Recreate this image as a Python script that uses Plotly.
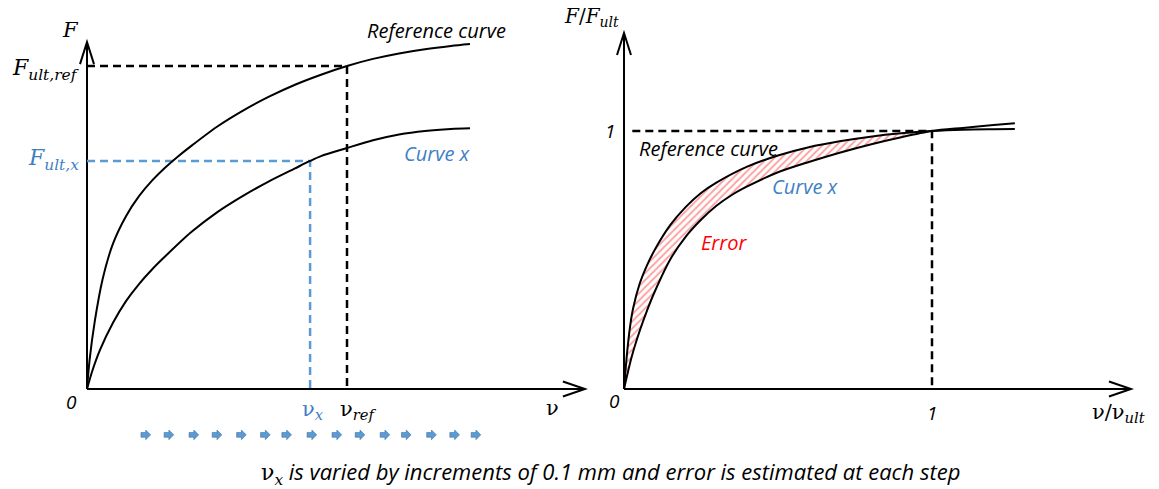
import plotly.graph_objects as go

# ---- left panel: raw force-displacement curves (v in units of v_ref, F in units of F_ult,ref)
ref_v = [0.0, 0.01, 0.03, 0.06, 0.1, 0.15, 0.2, 0.25, 0.3, 0.35, 0.4, 0.5, 0.6, 0.7, 0.8, 0.9,
         1.0, 1.1, 1.2, 1.3, 1.4, 1.473]
ref_F = [0.0, 0.09, 0.21, 0.34, 0.45, 0.535, 0.597, 0.645, 0.685, 0.72, 0.752, 0.812, 0.862, 0.905,
         0.942, 0.973, 1.0, 1.022, 1.039, 1.052, 1.062, 1.068]
curx_v = [0.0, 0.02, 0.05, 0.1, 0.15, 0.2, 0.25, 0.3, 0.4, 0.5, 0.6, 0.7, 0.8, 0.858, 0.9,
          1.0, 1.1, 1.2, 1.3, 1.4, 1.473]
curx_F = [0.0, 0.055, 0.121, 0.205, 0.272, 0.325, 0.37, 0.41, 0.485, 0.547, 0.598, 0.643, 0.683, 0.706,
          0.721, 0.746, 0.770, 0.788, 0.799, 0.805, 0.807]

v_ref, F_ult_ref = 1.0, 1.0
v_x, F_ult_x = 0.858, 0.706
left_v_max, left_F_max = 1.915, 1.074

# displacement steps (block arrows below the left axis)
step_v = [0.226, 0.315, 0.411, 0.500, 0.594, 0.686, 0.768, 0.865,
          0.961, 1.050, 1.146, 1.228, 1.325, 1.414, 1.496]
step_F = -0.142

# ---- right panel: normalised curves
nref_u = [0.0, 0.01, 0.02, 0.03, 0.05, 0.075, 0.1, 0.15, 0.2, 0.25, 0.3, 0.4, 0.5, 0.6,
          0.7, 0.8, 0.9, 1.0, 1.1, 1.2, 1.269]
nref_r = [0.0, 0.14, 0.245, 0.315, 0.405, 0.48, 0.54, 0.635, 0.705, 0.76, 0.80, 0.862, 0.905, 0.937,
          0.96, 0.978, 0.991, 1.0, 1.005, 1.007, 1.008]
ncx_u = [0.0, 0.025, 0.05, 0.075, 0.1, 0.15, 0.2, 0.25, 0.3, 0.35, 0.4, 0.5, 0.6, 0.7,
         0.8, 0.9, 1.0, 1.1, 1.2, 1.269]
ncx_r = [0.0, 0.125, 0.222, 0.305, 0.378, 0.502, 0.59, 0.656, 0.71, 0.752, 0.785, 0.84, 0.88, 0.916,
         0.948, 0.976, 1.0, 1.012, 1.023, 1.030]
right_u_max, right_r_max = 1.646, 1.380

BLACK = "#000000"
BLUE_LINE = "#5B9BD5"
BLUE_TEXT = "#3F7FC4"
RED = "#FF0000"
SANS = "Open Sans"
MATH = "DejaVu Serif"

fig = go.Figure()

def line(x, y, xa, ya, color=BLACK, width=2, dash=None, shape="linear"):
    ln = dict(color=color, width=width, dash=dash, shape=shape)
    if shape == "spline":
        ln["smoothing"] = 0.8
    fig.add_trace(go.Scatter(x=x, y=y, xaxis=xa, yaxis=ya, mode="lines", line=ln,
                             hoverinfo="skip", showlegend=False))

# ---------- left panel ----------
line([0, 0], [0, left_F_max], "x", "y")
line([0, left_v_max], [0, 0], "x", "y")
line([0, v_ref, v_ref], [F_ult_ref, F_ult_ref, 0], "x", "y", dash="8px,5px", width=2.5)
line([0, v_x, v_x], [F_ult_x, F_ult_x, 0], "x", "y", color=BLUE_LINE, dash="8px,5px", width=2.5)
line(ref_v, ref_F, "x", "y", shape="spline")
line(curx_v, curx_F, "x", "y", shape="spline")

# ---------- right panel ----------
k_ref = nref_u.index(1.0) + 1
k_cx = ncx_u.index(1.0) + 1
fig.add_trace(go.Scatter(
    x=nref_u[:k_ref] + ncx_u[:k_cx][::-1],
    y=nref_r[:k_ref] + ncx_r[:k_cx][::-1],
    xaxis="x2", yaxis="y2", mode="lines", fill="toself",
    line=dict(width=0, shape="spline", smoothing=0.8),
    fillcolor="rgba(0,0,0,0)",
    fillpattern=dict(shape="/", fgcolor="#FF3C3C", size=5, solidity=0.35),
    hoverinfo="skip", showlegend=False))
line([0, 0], [0, right_r_max], "x2", "y2")
line([0, right_u_max], [0, 0], "x2", "y2")
line([0.027, 1.0, 1.0], [1.0, 1.0, 0], "x2", "y2", dash="8px,5px", width=2.5)
line(nref_u, nref_r, "x2", "y2", shape="spline")
line(ncx_u, ncx_r, "x2", "y2", shape="spline")

# ---------- arrowheads on the axes ----------
shapes = []
def chevron(xref, yref, x, y, path):
    shapes.append(dict(type="path", xref=xref, yref=yref, xsizemode="pixel", ysizemode="pixel",
                       xanchor=x, yanchor=y, path=path, line=dict(color=BLACK, width=2)))

chevron("x", "y", 0, left_F_max, "M -7,-22 L 0,0 L 7,-22")
chevron("x", "y", left_v_max, 0, "M -22,-7.5 L 0,0 L -22,7.5")
chevron("x2", "y2", 0, right_r_max, "M -7,-22 L 0,0 L 7,-22")
chevron("x2", "y2", right_u_max, 0, "M -22,-7.5 L 0,0 L -22,7.5")

for sv in step_v:
    shapes.append(dict(type="path", xref="x", yref="y", xsizemode="pixel", ysizemode="pixel",
                       xanchor=sv, yanchor=step_F,
                       path="M -4.8,-2.4 L 0,-2.4 L 0,-4.8 L 4.8,0 L 0,4.8 L 0,2.4 L -4.8,2.4 Z",
                       fillcolor="#5B9BD5", line=dict(color="#41719C", width=0.6)))

# ---------- labels ----------
ann = []
def label(text, x, y, xref, yref, size=20, color=BLACK, family=SANS, xanchor="center"):
    ann.append(dict(text=text, x=x, y=y, xref=xref, yref=yref, showarrow=False,
                    xanchor=xanchor, yanchor="middle",
                    font=dict(family=family, size=size, color=color)))

# left panel
label("<i>F</i>", -0.065, 1.111, "x", "y", size=21, family=MATH)
label("<i>F</i><sub><i>ult,ref</i></sub>", -0.025, 0.99, "x", "y", size=22, family=MATH, xanchor="right")
label("<i>F</i><sub><i>ult,x</i></sub>", -0.025, 0.71, "x", "y", size=22, family=MATH,
      color=BLUE_TEXT, xanchor="right")
label("<i>0</i>", -0.058, -0.04, "x", "y", size=19)
label("ν<sub><i>x</i></sub>", v_x + 0.01, -0.065, "x", "y", size=21, family=MATH, color=BLUE_TEXT)
label("ν<sub><i>ref</i></sub>", 1.042, -0.065, "x", "y", size=21, family=MATH)
label("ν", 1.79, -0.06, "x", "y", size=21, family=MATH)
label("<i>Reference curve</i>", 1.069, 1.111, "x", "y", xanchor="left")
label("<i>Curve x</i>", 1.212, 0.728, "x", "y", color=BLUE_TEXT, xanchor="left")

# right panel
label("<i>F</i>/<i>F</i><sub><i>ult</i></sub>", -0.01, 1.44, "x2", "y2", size=20, family=MATH,
      xanchor="right")
label("<i>1</i>", -0.045, 1.0, "x2", "y2", size=19)
label("<i>0</i>", -0.03, -0.045, "x2", "y2", size=19)
label("<i>1</i>", 1.0, -0.093, "x2", "y2", size=19)
label("ν/ν<sub><i>ult</i></sub>", 1.604, -0.093, "x2", "y2", size=21, family=MATH)
label("<i>Reference curve</i>", 0.042, 0.934, "x2", "y2", xanchor="left")
label("<i>Curve x</i>", 0.474, 0.783, "x2", "y2", color=BLUE_TEXT, xanchor="left")
label("<i>Error</i>", 0.2435, 0.566, "x2", "y2", color=RED, xanchor="left")

# caption
ann.append(dict(
    text=("<span style='font-family:" + MATH + "'>ν<sub><i>x</i></sub></span>"
          "<i> is varied by increments of 0.1 mm and error is estimated at each step</i>"),
    x=0.527, y=0.033, xref="paper", yref="paper", showarrow=False,
    xanchor="center", yanchor="middle",
    font=dict(family=SANS, size=22, color=BLACK)))

hidden = dict(visible=False, fixedrange=True)
fig.update_layout(
    width=1159, height=489,
    margin=dict(l=0, r=0, t=0, b=0),
    paper_bgcolor="white", plot_bgcolor="white",
    showlegend=False,
    xaxis=dict(domain=[0, 600 / 1159], range=[-87 / 260, 513 / 260], **hidden),
    yaxis=dict(domain=[0, 1], range=[-100 / 323, 389 / 323], **hidden),
    xaxis2=dict(domain=[600 / 1159, 1], range=[-24 / 308, 535 / 308], **hidden),
    yaxis2=dict(domain=[0, 1], range=[-100 / 258, 389 / 258], anchor="x2", **hidden),
    shapes=shapes,
    annotations=ann,
)

fig.write_html("out.html", config=dict(displayModeBar=False))
